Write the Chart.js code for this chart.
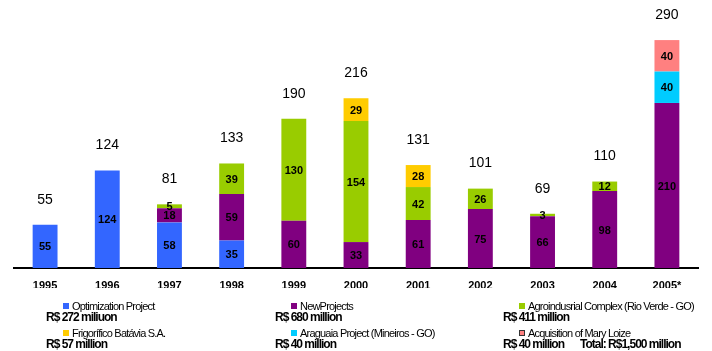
<!DOCTYPE html>
<html>
<head>
<meta charset="utf-8">
<script src="https://cdn.jsdelivr.net/npm/chart.js@4/dist/chart.umd.min.js"></script>
<style>
  html, body { margin: 0; padding: 0; background: #fff; }
  #wrap { position: relative; width: 712px; height: 351px; font-family: Arial, "Liberation Sans", sans-serif; }
  #wrap canvas { position: absolute; left: 0; top: 0; }
  .lg { position: absolute; font-size: 11px; letter-spacing: -0.8px; color: #000; white-space: nowrap; line-height: 12px; }
  .lg i { display: inline-block; width: 6px; height: 6px; margin-right: 3px; vertical-align: 1px; box-sizing: border-box; }
  .amt { position: absolute; font-size: 12px; font-weight: bold; letter-spacing: -1px; color: #000; white-space: nowrap; line-height: 12px; }
</style>
</head>
<body>
<div id="wrap">
  <canvas id="barChart" width="712" height="351"></canvas>
</div>
<script>
const years = ['1995', '1996', '1997', '1998', '1999', '2000', '2001', '2002', '2003', '2004', '2005*'];

const optimization = [55, 124, 58, 35, 0, 0, 0, 0, 0, 0, 0];
const newProjects  = [0, 0, 18, 59, 60, 33, 61, 75, 66, 98, 210];
const agroComplex  = [0, 0, 5, 39, 130, 154, 42, 26, 3, 12, 0];
const frigorifico  = [0, 0, 0, 0, 0, 29, 28, 0, 0, 0, 0];
const araguaia     = [0, 0, 0, 0, 0, 0, 0, 0, 0, 0, 40];
const maryLoize    = [0, 0, 0, 0, 0, 0, 0, 0, 0, 0, 40];

const seriesNames = ['Optimization Project', 'NewProjects', 'Agroindusrial Complex (Rio Verde - GO)',
                     'Frigorífico Batávia S.A.', 'Araguaia Project (Mineiros - GO)', 'Acquisition of Mary Loize'];
const seriesAmounts = ['R$ 272 miliuon', 'R$ 680 million', 'R$ 411 million',
                       'R$ 57 million', 'R$ 40 million', 'R$ 40 million'];
const totalText = 'Total: R$1,500 million';

const colors = ['#3366ff', '#800080', '#99cc00', '#ffcc00', '#00ccff', '#ff8080'];
const allSeries = [optimization, newProjects, agroComplex, frigorifico, araguaia, maryLoize];

// labels inside segments + totals above stacks
const labelPlugin = {
    id: 'labels',
    afterDatasetsDraw(chart) {
        const ctx = chart.ctx;
        ctx.save();
        ctx.fillStyle = '#000';
        ctx.textAlign = 'center';
        ctx.textBaseline = 'middle';
        ctx.font = 'bold 11px Arial, "Liberation Sans"';
        chart.data.datasets.forEach((ds, di) => {
            const meta = chart.getDatasetMeta(di);
            meta.data.forEach((bar, i) => {
                if (!ds.data[i]) return;
                ctx.fillText(ds.data[i], bar.x, (bar.y + bar.base) / 2 + 1);
            });
        });
        ctx.font = '14px Arial, "Liberation Sans"';
        const yScale = chart.scales.y;
        years.forEach((_, i) => {
            let total = 0;
            allSeries.forEach(s => { total += s[i]; });
            const x = chart.getDatasetMeta(0).data[i].x;
            ctx.fillText(total, x, yScale.getPixelForValue(total) - 25);
        });
        ctx.restore();
    }
};

const ctx = document.getElementById('barChart').getContext('2d');
new Chart(ctx, {
    type: 'bar',
    data: {
        labels: years,
        datasets: allSeries.map((s, i) => ({
            label: seriesNames[i],
            data: s,
            backgroundColor: colors[i],
            borderWidth: 0,
            barPercentage: 0.4,
            categoryPercentage: 1
        }))
    },
    options: {
        responsive: false,
        animation: false,
        layout: { padding: { left: 14, right: 14, top: 0, bottom: 63 } },
        plugins: { legend: { display: false }, tooltip: { enabled: false } },
        scales: {
            x: {
                stacked: true,
                grid: { display: false, drawTicks: false },
                border: { display: true, color: '#000', width: 2 },
                ticks: { color: '#000', font: { family: 'Arial, "Liberation Sans"', size: 11, weight: 'bold' }, padding: 11 },
                afterFit: scale => { scale.height = 20; }
            },
            y: {
                stacked: true,
                display: false,
                min: 0,
                max: 341
            }
        }
    },
    plugins: [labelPlugin]
});

// legend block under the axis
const wrap = document.getElementById('wrap');
const colX = [63, 291, 519];
const amtX = [46, 275, 503];
const rowY = [300, 327];
seriesNames.forEach((name, i) => {
    const col = i % 3, row = Math.floor(i / 3);
    const d = document.createElement('div');
    d.className = 'lg';
    d.style.left = colX[col] + 'px';
    d.style.top = rowY[row] + 'px';
    const border = i === 5 ? '1px solid #333' : 'none';
    d.innerHTML = '<i style="background:' + colors[i] + ';border:' + border + '"></i>' + name;
    wrap.appendChild(d);
    const a = document.createElement('div');
    a.className = 'amt';
    a.style.left = amtX[col] + 'px';
    a.style.top = (rowY[row] + 11) + 'px';
    a.textContent = seriesAmounts[i];
    wrap.appendChild(a);
});
const t = document.createElement('div');
t.className = 'amt';
t.style.left = '580px';
t.style.top = (rowY[1] + 11) + 'px';
t.textContent = totalText;
wrap.appendChild(t);
</script>
</body>
</html>
